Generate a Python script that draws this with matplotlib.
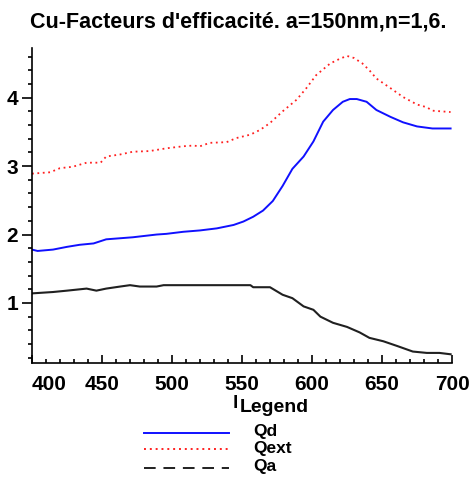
import matplotlib
matplotlib.use("Agg")
import matplotlib.pyplot as plt
from matplotlib.lines import Line2D

# wavelength (nm) and efficiency factors
wl_d = [400, 404, 415, 425, 434, 444, 453, 472, 489, 496, 508, 520, 532, 544, 551,
        558, 565, 572, 579, 586, 594, 601, 608, 615, 622, 627, 632, 639, 646, 656,
        665, 675, 686, 699]
q_d = [1.78, 1.76, 1.78, 1.82, 1.85, 1.87, 1.93, 1.96, 2.00, 2.01, 2.04, 2.06, 2.09,
       2.14, 2.19, 2.26, 2.35, 2.49, 2.71, 2.96, 3.14, 3.36, 3.65, 3.82, 3.94, 3.98,
       3.98, 3.94, 3.82, 3.72, 3.64, 3.58, 3.55, 3.55]

wl_ext = [400, 413, 420, 429, 439, 449, 453, 463, 472, 484, 496, 508, 515, 520, 527,
          539, 546, 556, 563, 570, 579, 589, 596, 603, 613, 620, 625, 630, 636, 641,
          646, 656, 665, 675, 682, 686, 699]
q_ext = [2.89, 2.91, 2.97, 2.99, 3.05, 3.05, 3.14, 3.17, 3.21, 3.22, 3.26, 3.29, 3.30,
         3.29, 3.34, 3.35, 3.41, 3.46, 3.53, 3.63, 3.80, 3.97, 4.14, 4.33, 4.50, 4.57,
         4.61, 4.58, 4.50, 4.40, 4.28, 4.14, 4.01, 3.90, 3.86, 3.81, 3.79]

wl_a = [400, 415, 425, 439, 446, 453, 463, 470, 477, 489, 494, 556, 558, 570, 579,
        586, 594, 601, 606, 615, 625, 634, 641, 651, 661, 672, 682, 691, 699]
q_a = [1.14, 1.16, 1.18, 1.21, 1.18, 1.21, 1.24, 1.26, 1.24, 1.24, 1.26, 1.26, 1.23,
       1.23, 1.12, 1.07, 0.95, 0.90, 0.80, 0.71, 0.65, 0.57, 0.49, 0.44, 0.37, 0.29,
       0.27, 0.27, 0.25]

x_ticks = [400, 450, 500, 550, 600, 650, 700]
y_ticks = [1, 2, 3, 4]

bold = {'family': ['Liberation Sans', 'DejaVu Sans'], 'weight': 'bold'}

W, H = 470, 478
fig = plt.figure(figsize=(W / 100, H / 100), dpi=100)
ax = fig.add_axes([32 / W, (H - 362.7) / H, 420 / W, (362.7 - 48) / H])

ax.plot(wl_d, q_d, color='#1010ff', lw=1.4)
ax.plot(wl_ext, q_ext, color='#ff2020', lw=1.3, linestyle=(0, (1, 2)))
ax.plot(wl_a, q_a, color='#202020', lw=1.5)

ax.set_xlim(400, 700)
ax.set_ylim(0.127, 4.726)
ax.set_xticks(x_ticks)
ax.set_xticks(range(400, 701, 10), minor=True)
ax.set_yticks(y_ticks)
ax.set_yticks([v / 10 for v in range(2, 47, 2)], minor=True)
ax.set_xticklabels([str(v) for v in x_ticks], fontdict=dict(bold, size=15))
ax.set_yticklabels([str(v) for v in y_ticks], fontdict=dict(bold, size=15))
ax.get_xticklabels()[0].set_ha('left')

for s in ['top', 'right']:
    ax.spines[s].set_visible(False)
for s in ['left', 'bottom']:
    ax.spines[s].set_linewidth(1.2)
ax.tick_params(axis='x', which='major', direction='in', length=6, width=1.2, pad=9)
ax.tick_params(axis='x', which='minor', direction='in', length=3, width=1.2)
ax.tick_params(axis='y', which='major', direction='out', length=7, width=1.2, pad=3)
ax.tick_params(axis='y', which='minor', direction='out', length=3, width=1.2)

fig.text(238 / W, 1 - 22 / H, "Cu-Facteurs d'efficacité. a=150nm,n=1,6.",
         ha='center', va='center', fontdict=dict(bold, size=15.5))

# x label and hand-made legend under the plot
fig.text(233 / W, 1 - 403 / H, "l", ha='left', va='center', fontdict=dict(bold, size=14))
fig.text(240 / W, 1 - 408 / H, "Legend", ha='left', va='center', fontdict=dict(bold, size=14))
legend = [('Qd', '#1010ff', '-', 432.7), ('Qext', '#ff2020', (0, (1, 2)), 449),
          ('Qa', '#202020', (0, (6, 4)), 467.5)]
for name, col, ls, yp in legend:
    fig.add_artist(Line2D([144 / W, 229 / W], [1 - yp / H, 1 - yp / H],
                          color=col, lw=1.4, linestyle=ls))
    fig.text(253 / W, 1 - (yp - 1) / H, name, ha='left', va='center',
             fontdict=dict(bold, size=12.5))

fig.savefig('out.png', dpi=100)
